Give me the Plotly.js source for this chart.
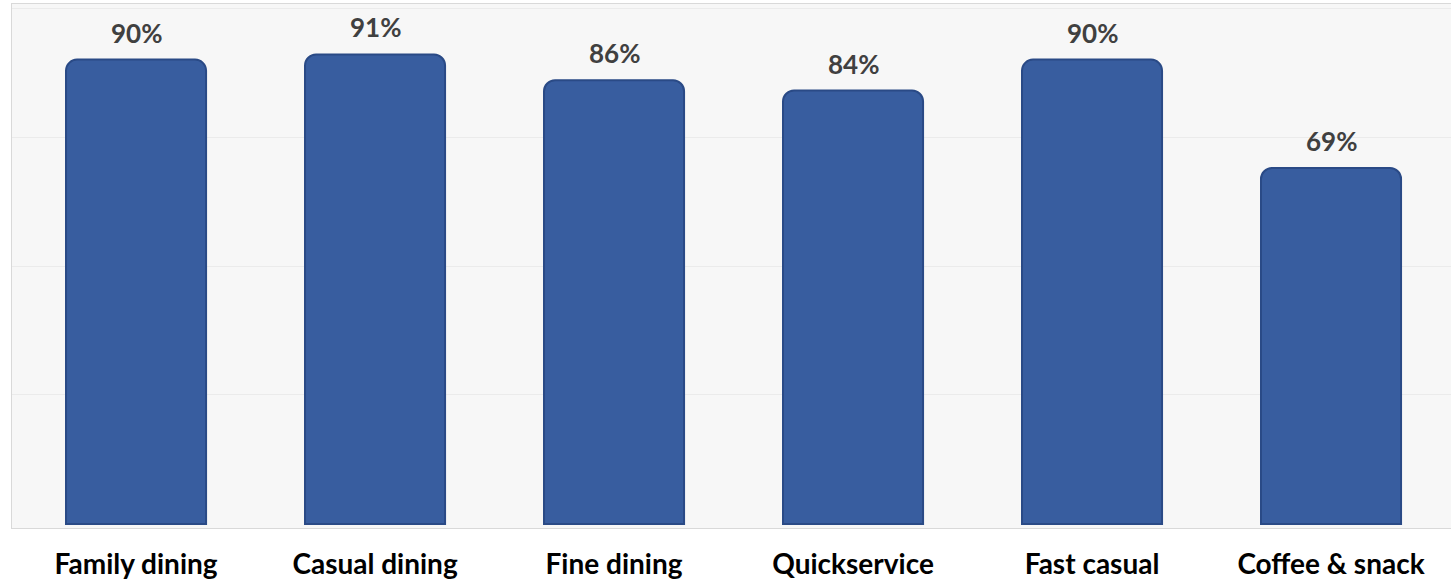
<!DOCTYPE html>
<html>
<head>
<meta charset="utf-8">
<script src="https://cdn.plot.ly/plotly-3.0.1.min.js"></script>
<style>
html,body{margin:0;padding:0;background:#ffffff;}
#chart{width:1451px;height:579px;}
</style>
</head>
<body>
<div id="chart"></div>
<script>
var categories = ["Family dining", "Casual dining", "Fine dining", "Quickservice", "Fast casual", "Coffee & snack"];
var values = [0.90, 0.91, 0.86, 0.84, 0.90, 0.69];
var valueLabels = ["90%", "91%", "86%", "84%", "90%", "69%"];

var barTrace = {
  type: "bar",
  x: categories,
  y: values,
  width: 0.586,
  marker: {
    color: "#385d9f",
    line: {color: "#2a4a86", width: 2},
    cornerradius: 11
  },
  hoverinfo: "skip"
};

var annotations = categories.map(function(c, i){
  return {
    x: c, y: values[i], text: valueLabels[i],
    xref: "x", yref: "y",
    showarrow: false, yanchor: "bottom", yshift: 9,
    font: {family: "Lato, 'Open Sans', sans-serif", size: 26, color: "#404040", weight: "bold"}
  };
});

var layout = {
  width: 1451, height: 579,
  margin: {l: 12, r: 0, t: 4, b: 51},
  paper_bgcolor: "#ffffff",
  plot_bgcolor: "#f7f7f7",
  showlegend: false,
  xaxis: {
    type: "category",
    range: [-0.519, 5.502],
    showline: true, mirror: true, linecolor: "#d9d9d9", linewidth: 1,
    showgrid: false, zeroline: false, ticks: "",
    tickfont: {family: "Lato, 'Open Sans', sans-serif", size: 28, color: "#000000", weight: "bold"},
    ticklabelstandoff: 11
  },
  yaxis: {
    range: [-0.0078, 1.0078],
    tickvals: [0.25, 0.5, 0.75, 1.0],
    showticklabels: false,
    showgrid: true, gridcolor: "#ebebeb", gridwidth: 1,
    zeroline: false,
    showline: true, mirror: true, linecolor: "#d9d9d9", linewidth: 1
  },
  annotations: annotations
};

Plotly.newPlot("chart", [barTrace], layout, {displayModeBar: false, staticPlot: true});
</script>
</body>
</html>
